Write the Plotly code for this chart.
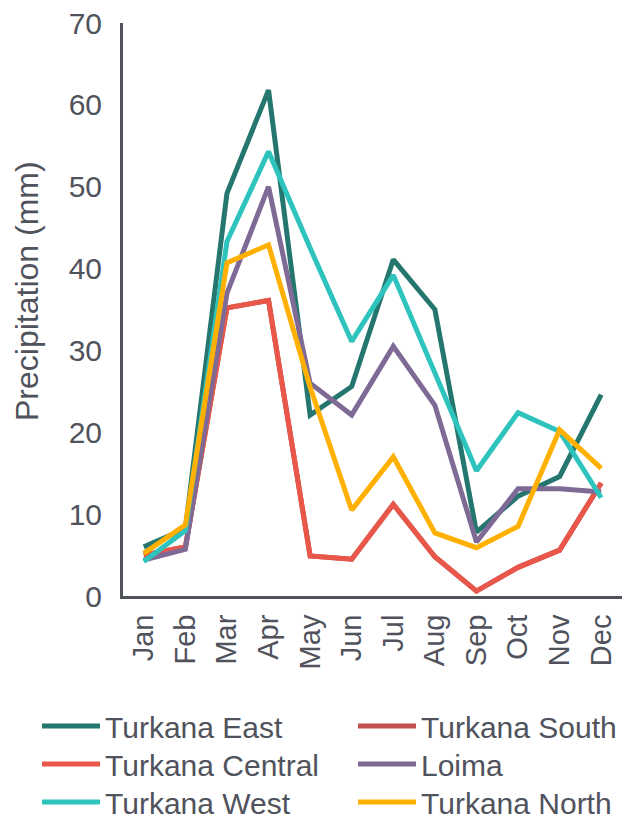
import plotly.graph_objects as go

months = ["Jan", "Feb", "Mar", "Apr", "May", "Jun", "Jul", "Aug", "Sep", "Oct", "Nov", "Dec"]

turkana_east = [6.0, 8.2, 49.2, 61.8, 22.1, 25.6, 41.1, 35.0, 7.8, 12.2, 14.6, 24.6]
turkana_south = [5.0, 6.0, 35.2, 36.1, 4.9, 4.5, 11.2, 4.8, 0.6, 3.5, 5.6, 13.8]
turkana_central = [5.0, 6.0, 35.2, 36.1, 4.9, 4.5, 11.2, 4.8, 0.6, 3.5, 5.6, 13.8]
loima = [4.4, 5.7, 37.0, 50.0, 26.0, 22.1, 30.5, 23.3, 6.6, 13.1, 13.1, 12.7]
turkana_west = [4.2, 8.0, 43.3, 54.3, 42.5, 31.1, 39.2, 27.3, 15.3, 22.4, 20.1, 12.0]
turkana_north = [5.2, 8.7, 40.7, 42.9, 25.5, 10.5, 17.0, 7.7, 5.9, 8.5, 20.3, 15.6]

series_names = ["Turkana East", "Turkana South", "Turkana Central", "Loima", "Turkana West", "Turkana North"]
series_values = [turkana_east, turkana_south, turkana_central, loima, turkana_west, turkana_north]
series_colors = ["#24766F", "#C0504D", "#E8574A", "#7F6A96", "#2EC4BD", "#FFB000"]

y_title = "Precipitation (mm)"

TEXT = "#50525C"
FONT = "Liberation Sans, Arial, sans-serif"

# legend grid: 2 columns x 3 rows (container pixel positions)
col_x = [37, 353]
row_top = [700, 738, 776]

fig = go.Figure()
legends = {}
for i, (name, vals, color) in enumerate(zip(series_names, series_values, series_colors)):
    lid = "legend" if i == 0 else f"legend{i + 1}"
    fig.add_trace(go.Scatter(
        x=months, y=vals, name=name, mode="lines",
        line=dict(color=color, width=5), legend=lid,
    ))
    legends[lid] = dict(
        orientation="v",
        xref="container", yref="container",
        x=col_x[i % 2] / 622, y=1 - row_top[i // 2] / 819,
        xanchor="left", yanchor="top",
        itemwidth=58,
        font=dict(size=30, color=TEXT),
        bgcolor="rgba(0,0,0,0)",
    )

fig.update_layout(
    width=622, height=819,
    margin=dict(l=123, r=0, t=23, b=223, autoexpand=False),
    paper_bgcolor="white", plot_bgcolor="white",
    font=dict(family=FONT, size=28, color=TEXT),
    showlegend=True,
    xaxis=dict(
        type="category", automargin=False,
        showline=True, linecolor=TEXT, linewidth=3,
        showgrid=False, zeroline=False,
        tickangle=-90, ticks="", ticklabelstandoff=4,
        tickfont=dict(size=29, color=TEXT),
        range=[-0.5, 11.5],
    ),
    yaxis=dict(
        range=[0, 70], dtick=10, automargin=False,
        showline=True, linecolor=TEXT, linewidth=3,
        showgrid=False, zeroline=False,
        ticks="", ticklabelstandoff=12,
        tickfont=dict(size=30, color=TEXT),
    ),
    annotations=[dict(
        text=y_title, textangle=-90,
        xref="paper", yref="paper",
        x=(27 - 123) / 499, y=(596 - 291) / 573,
        xanchor="center", yanchor="middle",
        showarrow=False,
        font=dict(size=32, color=TEXT, family=FONT),
    )],
    **legends,
)

fig.write_html(
    "out.html",
    config={"displayModeBar": False},
    post_script="document.body.style.margin='0';document.body.style.overflow='hidden';",
)
